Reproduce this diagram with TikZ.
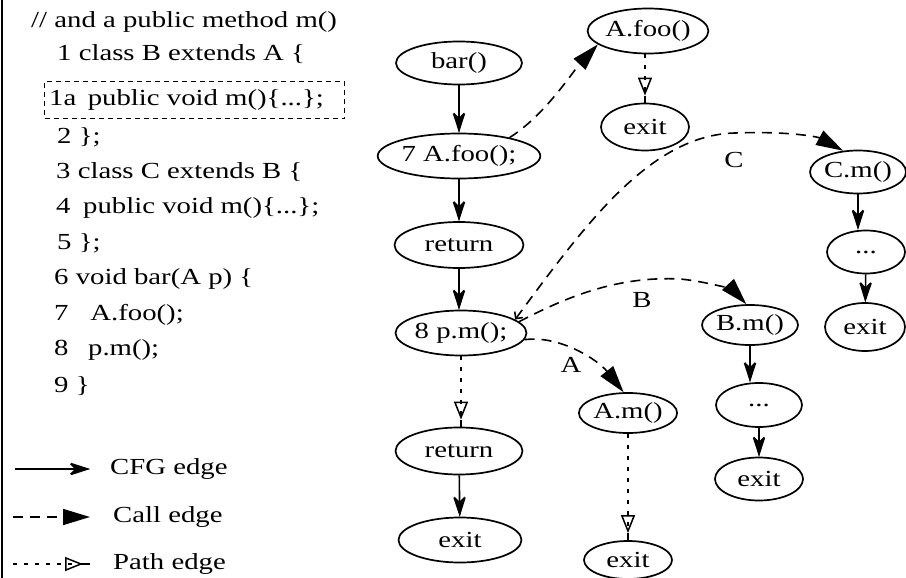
\documentclass[tikz,border=0pt]{standalone}
\usepackage{fontspec}
\setmainfont[FakeStretch=1.25]{Liberation Serif}
\usetikzlibrary{arrows.meta,shapes.geometric}
\begin{document}
\begin{tikzpicture}[x=1pt,y=-1pt,font=\fontsize{23}{27}\selectfont,
  st/.style={ellipse,draw,line width=1.7pt,inner sep=0pt},
  code/.style={anchor=west,inner sep=0pt},
  lbl/.style={inner sep=0pt},
  cfg/.style={line width=1.6pt,
    -{Stealth[open,length=26pt,width=17pt,inset=15pt,line width=1.5pt,sep=-20pt]
      Stealth[length=20pt,width=10pt,inset=5pt]}},
  call/.style={line width=1.6pt,dash pattern=on 10pt off 7pt,
    -{Triangle[length=27pt,width=16pt]}},
  pathe/.style={line width=1.6pt,dash pattern=on 4pt off 7pt,
    -{Triangle[open,length=18pt,width=14pt,line width=1.5pt] Rectangle[length=7pt,width=2.5pt]}},
]
\useasboundingbox (0,0) rectangle (906,578);
\fill[white] (0,0) rectangle (906,578);
\draw[line width=2pt] (2,0) -- (2,578);

% source listing
\node[code] (c0) at (31,22) {// and a public method m()};
\node[code] (c1) at (57,54) {1 class B extends A \{};
\node[draw,line width=1.3pt,dash pattern=on 5pt off 4pt,anchor=west,
      minimum width=300pt,minimum height=37pt,inner sep=0pt] (box) at (44,100) {};
\node[code] (c1a) at (49,100) {1a\hspace{0.5em}public void m()\{...\};};
\node[code] (c2) at (57,137) {2 \};};
\node[code] (c3) at (56,172) {3 class C extends B \{};
\node[code] (c4) at (56,208) {4\hspace{0.55em}public void m()\{...\};};
\node[code] (c5) at (57,243) {5 \};};
\node[code] (c6) at (54,279) {6 void bar(A p) \{};
\node[code] (c7) at (54,315) {7\hspace{0.95em}A.foo();};
\node[code] (c8) at (54,350) {8\hspace{0.85em}p.m();};
\node[code] (c9) at (54,386) {9 \}};

% legend
\coordinate (g1a) at (15,469); \coordinate (g1b) at (90,469);
\coordinate (g2a) at (13,517); \coordinate (g2b) at (90,517);
\coordinate (g3a) at (13,564); \coordinate (g3b) at (90,564);
\draw[cfg] (g1a) -- (g1b);
\draw[call] (g2a) -- (g2b);
\draw[pathe] (g3a) -- (g3b);
\node[code] (t1) at (110,469) {CFG edge};
\node[code] (t2) at (113,517) {Call edge};
\node[code] (t3) at (113,564) {Path edge};

% bar()
\node[st,minimum width=126pt,minimum height=43pt] (bar) at (459,63) {bar()};
\node[st,minimum width=126pt,minimum height=45pt] (a7) at (459,156) {7 A.foo();};
\node[st,minimum width=129pt,minimum height=46pt] (ret1) at (459,245) {return};
\node[st,minimum width=127pt,minimum height=45pt] (pm) at (461,333) {8 p.m();};
\node[st,minimum width=127pt,minimum height=47pt] (ret2) at (459,451) {return};
\node[st,minimum width=123pt,minimum height=45pt] (ex1) at (460,540) {exit};

% A.foo()
\node[st,minimum width=104pt,minimum height=45pt] (afoo) at (648,31) {A.foo()};
\node[st,minimum width=88pt,minimum height=47pt] (ex2) at (645,127) {exit};

% C.m()
\node[st,minimum width=92pt,minimum height=43pt] (cm) at (858,172) {C.m()};
\node[st,minimum width=78pt,minimum height=43pt] (cdots) at (866,252) {...};
\node[st,minimum width=80pt,minimum height=48pt] (cex) at (865,327) {exit};

% B.m()
\node[st,minimum width=95pt,minimum height=40pt] (bm) at (750,325) {B.m()};
\node[st,minimum width=86pt,minimum height=44pt] (bdots) at (759,405) {...};
\node[st,minimum width=88pt,minimum height=43pt] (bex) at (759,479) {exit};

% A.m()
\node[st,minimum width=94pt,minimum height=40pt] (am) at (628,413) {A.m()};
\node[st,minimum width=88pt,minimum height=38pt] (aex) at (628,560) {exit};

% edge labels
\node[lbl] (lc) at (734,160) {C};
\node[lbl] (lb) at (642,300) {B};
\node[lbl] (la) at (571,365) {A};

% control-flow edges
\draw[cfg] (bar) -- (a7);
\draw[cfg] (a7) -- (ret1);
\draw[cfg] (ret1) -- (ret1 |- pm.north);
\draw[cfg] (ret2) -- (ex1);
\draw[cfg] (cm.south) -- (cm.south |- cdots.north);
\draw[cfg] (cdots) -- (cex);
\draw[cfg] (bm.south) -- (bm.south |- bdots.north);
\draw[cfg] (bdots) -- (bex);

% path edges
\draw[pathe] (pm) -- (pm |- ret2.north);
\draw[pathe] (afoo.south -| ex2) -- (ex2);
\draw[pathe] (am) -- (aex);

% call edges
\draw[call] (a7.20) .. controls +(35,-22) and +(-25,27) .. (afoo.195);
\draw[call,{Straight Barb[length=5pt,width=10pt]}-{Triangle[length=27pt,width=16pt]}]
  (pm.14) .. controls (585,225) and (650,135) .. (735,133)
  .. controls (790,131) and (818,137) .. (cm.125);
\draw[call] (pm.11) .. controls (570,295) and (620,276) .. (680,279)
  .. controls (712,282) and (735,292) .. (bm.100);
\draw[call] (pm.-6) .. controls (560,335) and (598,360) .. (am.102);
\end{tikzpicture}
\end{document}
